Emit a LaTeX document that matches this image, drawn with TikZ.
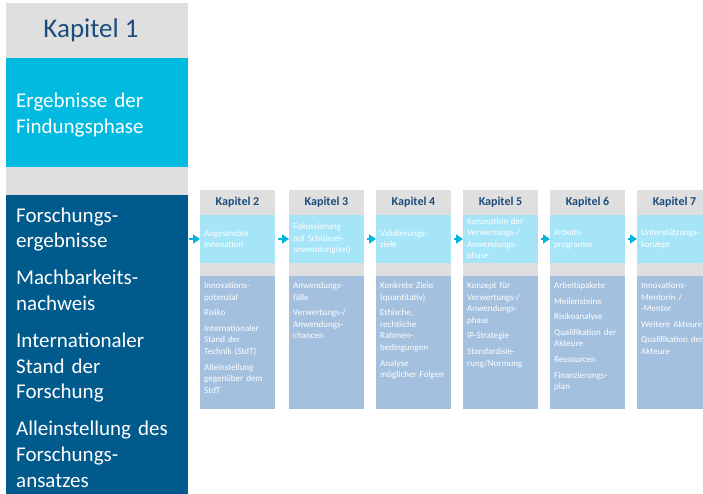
\documentclass[tikz,border=0pt]{standalone}
\usepackage{fontspec}
\setmainfont{Carlito}
\usetikzlibrary{arrows.meta}
\definecolor{boxgrey}{HTML}{DFDFDF}
\definecolor{cyanA}{HTML}{00BBDF}
\definecolor{darkblue}{HTML}{005A8C}
\definecolor{lightcyan}{HTML}{A6E5F8}
\definecolor{bluegrey}{HTML}{A3C0DF}
\definecolor{titleblue}{HTML}{1B4C7D}
\definecolor{arrowcyan}{HTML}{00B5DA}
\tikzset{
  plain/.style={draw=none, inner sep=0pt, outer sep=0pt, anchor=north west},
  hdrbox/.style={plain, fill=boxgrey, minimum width=75pt, minimum height=25pt, text=titleblue, font=\bfseries\fontsize{12}{14}\selectfont},
  midbox/.style={plain, fill=lightcyan, inner xsep=4pt, text width=67pt, minimum height=48pt, align=left, text=white, font=\fontsize{9}{11.6}\selectfont},
  gapbox/.style={plain, fill=boxgrey, minimum width=75pt, minimum height=13pt},
  botbox/.style={plain, fill=bluegrey, minimum width=75pt, minimum height=133pt},
  bottext/.style={inner sep=0pt, anchor=base west, text width=72pt, align=left, text=white, font=\fontsize{9}{11.6}\selectfont},
  flow/.style={draw=arrowcyan, line width=2.6pt, -{Triangle[length=7pt,width=9pt]}, shorten <=0pt}
}
\newcommand{\kapcol}[5]{%
  \node[hdrbox] (h#1) at (#2,190) {Kapitel #1};
  \node[midbox] (m#1) at (#2,215) {#3};
  \node[gapbox] (g#1) at (#2,263) {};
  \node[botbox] (b#1) at (#2,276) {};
  \node[bottext] (t#1) at (#2+4,288.5) {#4};
}
\begin{document}
\begin{tikzpicture}[x=1pt,y=-1pt]
\useasboundingbox (0,0) rectangle (703,493);
\clip (0,0) rectangle (703,493);

% left column
\node[plain, fill=boxgrey, minimum width=182pt, minimum height=55pt] (k1box) at (6,3) {};
\node[inner sep=0pt, anchor=base, text=titleblue, font=\fontsize{27}{30}\selectfont] (k1) at (91,37) {Kapitel 1};
\node[plain, fill=cyanA, minimum width=182pt, minimum height=109pt] (ergbox) at (6,58) {};
\node[inner sep=0pt, anchor=base west, text width=168pt, align=left, text=white, font=\fontsize{21}{26}\selectfont] (erg) at (16,107) {Ergebnisse der\\Findungsphase};
\node[plain, fill=boxgrey, minimum width=182pt, minimum height=28pt] (lgap) at (6,167) {};
\node[plain, fill=darkblue, minimum width=182pt, minimum height=300pt] (dark) at (6,195) {};
\node[inner sep=0pt, anchor=base west, text width=170pt, align=left, text=white, font=\fontsize{21}{25.8}\selectfont] (darktext) at (16,222)
  {Forschungs-\\ergebnisse\\[11pt]Machbarkeits-\\nachweis\\[11pt]Internationaler\\Stand der\\Forschung\\[11pt]Alleinstellung des\\Forschungs-\\ansatzes};

% chapter columns
\kapcol{2}{200}{Angestrebte\\Innovation}
  {Innovations-\\potenzial\\[4pt]Risiko\\[4pt]Internationaler\\Stand der\\Technik (StdT)\\[4pt]Alleinstellung\\gegenüber dem\\StdT}{}
\kapcol{3}{289}{Fokussierung\\auf Schlüssel-\\anwendung(en)}
  {Anwendungs-\\fälle\\[4pt]Verwertungs-/\\Anwendungs-\\chancen}{}
\kapcol{4}{376}{Validierungs-\\ziele}
  {Konkrete Ziele\\(quantitativ)\\[4pt]Ethische,\\rechtliche\\Rahmen-\\bedingungen\\[4pt]Analyse\\möglicher Folgen}{}
\kapcol{5}{463}{Konzeption der\\Verwertungs-/\\Anwendungs-\\phase}
  {Konzept für\\Verwertungs-/\\Anwendungs-\\phase\\[4pt]IP-Strategie\\[4pt]Standardisie-\\rung/Normung}{}
\kapcol{6}{550}{Arbeits-\\programm}
  {Arbeitspakete\\[4pt]Meilensteine\\[4pt]Risikoanalyse\\[4pt]Qualifikation der\\Akteure\\[4pt]Ressourcen\\[4pt]Finanzierungs-\\plan}{}
\kapcol{7}{637}{Unterstützungs-\\konzept}
  {Innovations-\\Mentorin /\\-Mentor\\[4pt]Weitere Akteure\\[4pt]Qualifikation der\\Akteure}{}

% arrows
\draw[flow] ([xshift=1pt]dark.east |- m2.west) -- (m2.west);
\draw[flow] ([xshift=3pt]m2.east) -- (m3.west);
\draw[flow] ([xshift=3pt]m3.east) -- (m4.west);
\draw[flow] ([xshift=3pt]m4.east) -- (m5.west);
\draw[flow] ([xshift=3pt]m5.east) -- (m6.west);
\draw[flow] ([xshift=3pt]m6.east) -- (m7.west);
\end{tikzpicture}
\end{document}
